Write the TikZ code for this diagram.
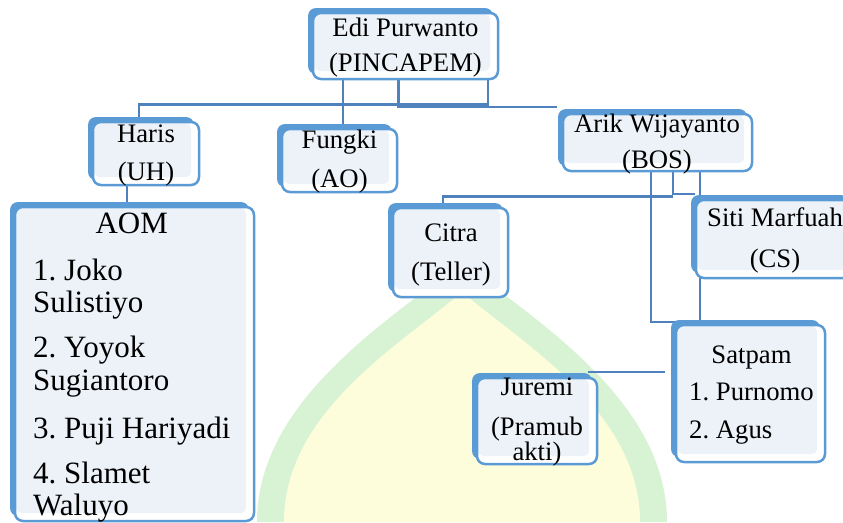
\documentclass[tikz,border=0pt]{standalone}
\usepackage{fontspec}
\setmainfont{Liberation Serif}
\usetikzlibrary{shadows}
\frenchspacing

\definecolor{boxblue}{HTML}{5B9BD5}
\definecolor{linkblue}{HTML}{4F81BD}
\definecolor{boxfill}{HTML}{EDF2F9}
\definecolor{wmgreen}{HTML}{D8F3D3}
\definecolor{wmyellow}{HTML}{FDFDDC}

\newcommand{\stack}[2][c]{\begin{tabular}[t]{@{}#1@{}}#2\end{tabular}}

\pgfdeclarelayer{mark}
\pgfdeclarelayer{links}
\pgfsetlayers{mark,links,main}

\tikzset{
    unit/.style={rectangle, rounded corners=8pt, draw=boxblue, line width=2.5pt, fill=white, inner sep=0pt,
        drop shadow={shadow xshift=-5pt, shadow yshift=5pt, fill=boxblue, opacity=1},
        path picture={\fill[boxfill, rounded corners=5pt]
            ([shift={(1.5pt,-1.5pt)}]path picture bounding box.north west) rectangle
            ([shift={(-8pt,8pt)}]path picture bounding box.south east);}},
    txt/.style={anchor=base, inner sep=0pt, font=\fontsize{26.7pt}{37.5pt}\selectfont},
    link/.style={draw=linkblue, line width=2.5pt}
}

\begin{document}
\begin{tikzpicture}[x=1pt, y=-1pt]
        \useasboundingbox (0,0) rectangle (843,522);
        % faint logo behind the chart
        \begin{pgfonlayer}{mark}
        	\fill[wmgreen] (257,522) .. controls (257,400) and (390,320) .. (462,262)
        		.. controls (534,320) and (667,400) .. (667,522) -- cycle;
        	\fill[wmyellow] (284,522) .. controls (284,412) and (400,345) .. (462,292)
        		.. controls (524,345) and (640,412) .. (640,522) -- cycle;
        \end{pgfonlayer}

        \node[unit, minimum width=185pt, minimum height=66pt] (edi) at (405.5,46) {};
        \node[unit, minimum width=106pt, minimum height=63pt] (haris) at (146,153.5) {};
        \node[unit, minimum width=115pt, minimum height=63pt] (fungki) at (339.5,160.5) {};
        \node[unit, minimum width=189pt, minimum height=57pt] (arik) at (657.5,142.5) {};
        \node[unit, minimum width=239pt, minimum height=314pt] (aom) at (134.5,364) {};
        \node[unit, minimum width=115pt, minimum height=89pt] (citra) at (450.5,252.5) {};
        \node[unit, minimum width=158pt, minimum height=78pt] (siti) at (775,239) {};
        \node[unit, minimum width=149pt, minimum height=137pt] (satpam) at (750.5,393.5) {};
        \node[unit, minimum width=120pt, minimum height=86pt] (juremi) at (537,421) {};

        \node[txt] (editxt) at (405.5,36) {\stack{Edi Purwanto\\[-2.5pt](PINCAPEM)}};
        \node[txt] (haristxt) at (146,142.7) {\stack{Haris\\[0.5pt](UH)}};
        \node[txt] (fungkitxt) at (339.5,148) {\stack{Fungki\\[1.5pt](AO)}};
        \node[txt] (ariktxt) at (657,132) {\stack{Arik Wijayanto\\[-1.5pt](BOS)}};
        \node[txt] (citratxt) at (451,241.7) {\stack{Citra\\[1.5pt](Teller)}};
        \node[txt] (sititxt) at (775,226.7) {\stack{Siti Marfuah\\[3.5pt](CS)}};
        \node[txt] (juremitxt) at (537,395) {\stack{Juremi\\[2.5pt](Pramub\\[-12.5pt]akti)}};
        \node[txt, anchor=base west] (satpamtxt) at (689,363)
        	{\stack[l]{\multicolumn{1}{@{}c@{}}{Satpam}\\1. Purnomo\\2. Agus}};
        \node[txt, anchor=base west, font=\fontsize{31pt}{32.5pt}\selectfont] (aomtxt) at (33,233)
        	{\stack[l]{\multicolumn{1}{@{}c@{}}{AOM}\\[14.5pt]1. Joko\\Sulistiyo\\[12.5pt]2. Yoyok\\Sugiantoro\\[15.5pt]3. Puji Hariyadi\\[12.5pt]4. Slamet\\Waluyo}};

        \begin{pgfonlayer}{links}
        	\draw[link] ([xshift=82.5pt]edi.south) -- ++(0,24) -| ([xshift=-7pt]haris.north);
        	\draw[link] ([xshift=-7pt]edi.south) |- ([shift={(-5pt,6pt)}]arik.north west);
        	\draw[link] ([xshift=3.5pt]fungki.north) -- ([xshift=3.5pt]fungki.north |- edi.south);
        	\draw[link] ([xshift=-19pt]haris.south) -- ([xshift=-19pt]haris.south |- aom.north);
        	\draw[link] ([xshift=15.5pt]arik.south) |- ([yshift=5pt]siti.north west);
        	\draw[link] ([xshift=15.5pt, yshift=-24pt]arik.south) -| ([xshift=-7.5pt]citra.north);
        	\draw[link] ([xshift=42.5pt]arik.south) -- ([xshift=42.5pt]arik.south |- satpam.north);
        	\draw[link] ([xshift=-6.5pt]arik.south) |- ([yshift=2pt]satpam.north west);
        	\draw[link] ([shift={(-10pt,5pt)}]juremi.north east) -- ([shift={(-10pt,5pt)}]juremi.north east -| satpam.west);
        \end{pgfonlayer}
\end{tikzpicture}
\end{document}
